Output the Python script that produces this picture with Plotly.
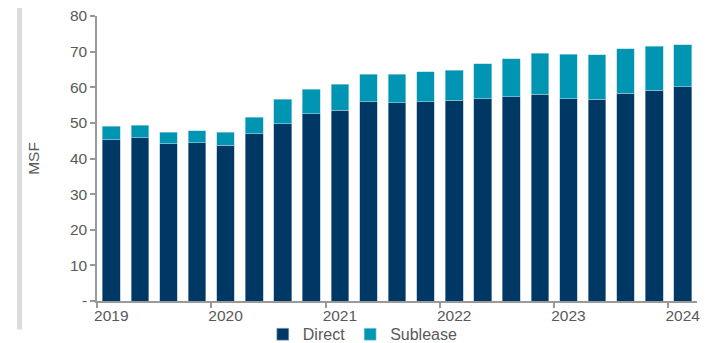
import plotly.graph_objects as go

quarters = ["2019 Q1", "2019 Q2", "2019 Q3", "2019 Q4",
            "2020 Q1", "2020 Q2", "2020 Q3", "2020 Q4",
            "2021 Q1", "2021 Q2", "2021 Q3", "2021 Q4",
            "2022 Q1", "2022 Q2", "2022 Q3", "2022 Q4",
            "2023 Q1", "2023 Q2", "2023 Q3", "2023 Q4",
            "2024 Q1"]
direct = [45.3, 45.8, 44.2, 44.4, 43.7, 47.0, 49.8, 52.5, 53.5,
          56.0, 55.7, 56.0, 56.4, 56.8, 57.4, 58.0, 56.8, 56.6,
          58.3, 59.1, 60.1]
sublease = [3.8, 3.6, 3.2, 3.4, 3.7, 4.6, 6.9, 7.0, 7.3,
            7.6, 7.9, 8.3, 8.4, 9.8, 10.6, 11.6, 12.4, 12.5,
            12.5, 12.4, 11.8]
year_labels = ["2019", "2020", "2021", "2022", "2023", "2024"]
y_ticks = [0, 10, 20, 30, 40, 50, 60, 70, 80]
y_ticktext = ["-", "10", "20", "30", "40", "50", "60", "70", "80"]

x = list(range(len(quarters)))
font = dict(family="Liberation Sans, Arial, sans-serif", size=15.5, color="#595959")

fig = go.Figure()
fig.add_trace(go.Bar(x=x, y=direct, name="Direct", hovertext=quarters,
                     marker=dict(color="#003865", line=dict(color="#9fb7c9", width=0.6))))
fig.add_trace(go.Bar(x=x, y=sublease, name="Sublease", hovertext=quarters,
                     marker=dict(color="#0095B3", line=dict(color="#a8d6e2", width=0.6))))

fig.update_layout(
    barmode="stack",
    bargap=0.38,
    width=700, height=335,
    margin=dict(l=89, r=11, t=8, b=41.5, autoexpand=False),
    plot_bgcolor="white", paper_bgcolor="white",
    font=font,
    showlegend=True,
    legend=dict(orientation="h", x=0.443, xanchor="center", y=-0.117, yanchor="middle",
                font=dict(size=16, color="#595959"), itemwidth=30, traceorder="normal",
                bgcolor="rgba(0,0,0,0)"),
    xaxis=dict(
        range=[-0.5, len(quarters) - 0.5],
        tickmode="array",
        tickvals=[x[i] for i in range(0, len(quarters), 4)],
        ticktext=year_labels,
        ticks="",
        showline=True, linecolor="#999999", linewidth=1.5,
        showgrid=False, zeroline=False, automargin=False,
        ticklabeloverflow="allow",
        tickfont=font,
        minor=dict(tickmode="array",
                   tickvals=[i - 0.5 for i in range(0, len(quarters), 4)],
                   ticks="outside", ticklen=5, tickcolor="#999999", tickwidth=1.5,
                   showgrid=False),
    ),
    yaxis=dict(
        range=[0, 80],
        tickmode="array", tickvals=y_ticks, ticktext=y_ticktext,
        ticks="outside", ticklen=5, tickcolor="#999999", tickwidth=1.5,
        showline=True, linecolor="#999999", linewidth=1.5,
        showgrid=False, zeroline=False, automargin=False,
        ticklabeloverflow="allow",
        tickfont=font,
        title=dict(text="MSF", font=font, standoff=26),
    ),
    shapes=[dict(type="line", xref="paper", yref="paper",
                 x0=-0.129, x1=-0.129, y0=1.031, y1=-0.1,
                 line=dict(color="#dcdcdc", width=5))],
)

fig.write_html("out.html")
